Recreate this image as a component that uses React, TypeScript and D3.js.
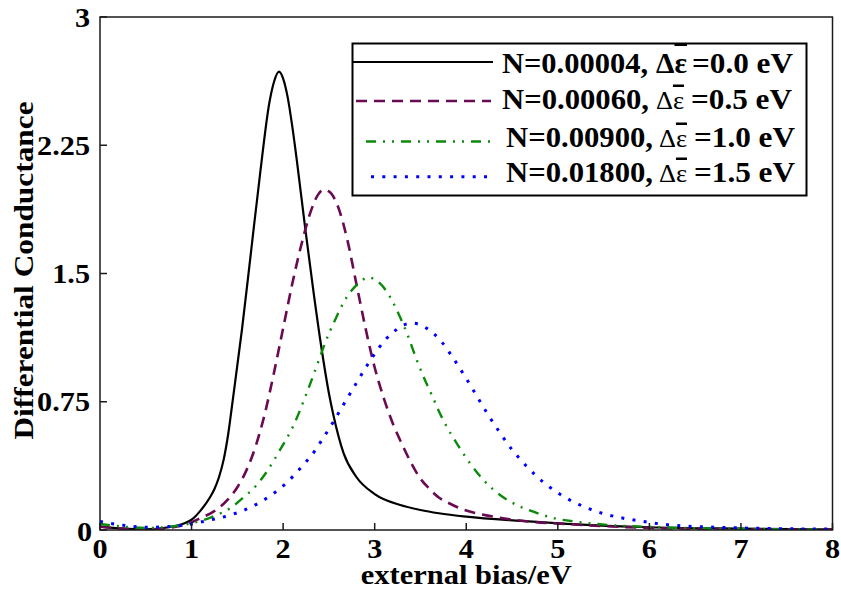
import React from "react";
import * as d3 from "d3";

// ---- data ----
const blackX = [0, 0.25, 0.5, 0.75, 0.9, 1.0, 1.1, 1.2, 1.25, 1.3, 1.35, 1.4, 1.45, 1.55, 1.65, 1.75, 1.85, 1.9, 1.955, 2.0, 2.05, 2.1, 2.15, 2.24, 2.33, 2.42, 2.5, 2.55, 2.66, 2.8, 3.0, 3.28, 3.5, 3.7, 4.0, 4.6, 5.1, 6, 7, 8];
const blackY = [0.02, 0.008, 0.004, 0.016, 0.035, 0.06, 0.115, 0.19, 0.24, 0.31, 0.41, 0.56, 0.76, 1.17, 1.63, 2.09, 2.5, 2.62, 2.68, 2.64, 2.53, 2.36, 2.16, 1.77, 1.4, 1.06, 0.8, 0.67, 0.45, 0.31, 0.21, 0.146, 0.117, 0.098, 0.078, 0.053, 0.036, 0.016, 0.008, 0.004];

const purpleX = [0, 0.25, 0.5, 0.75, 1.0, 1.1, 1.24, 1.4, 1.5, 1.6, 1.7, 1.8, 1.9, 2.0, 2.1, 2.2, 2.3, 2.38, 2.44, 2.5, 2.6, 2.7, 2.8, 2.9, 3.0, 3.1, 3.2, 3.3, 3.4, 3.5, 3.6, 3.7, 3.8, 3.93, 4.295, 4.696, 5.097, 6, 7, 8];
const purpleY = [0.02, 0.008, 0.003, 0.012, 0.045, 0.07, 0.107, 0.18, 0.25, 0.35, 0.49, 0.68, 0.92, 1.18, 1.44, 1.67, 1.86, 1.96, 1.99, 1.98, 1.89, 1.7, 1.44, 1.18, 0.95, 0.77, 0.62, 0.5, 0.39, 0.3, 0.24, 0.19, 0.16, 0.127, 0.078, 0.049, 0.035, 0.012, 0.005, 0.002];

const greenX = [0, 0.25, 0.5, 0.75, 1.0, 1.13, 1.275, 1.42, 1.565, 1.711, 1.821, 1.966, 2.112, 2.257, 2.384, 2.457, 2.567, 2.693, 2.785, 2.86, 2.93, 3.0, 3.058, 3.167, 3.258, 3.367, 3.459, 3.549, 3.64, 3.695, 3.787, 3.896, 4.041, 4.205, 4.369, 4.551, 4.733, 4.951, 5.2, 5.57, 6.116, 7, 8];
const greenY = [0.035, 0.02, 0.012, 0.018, 0.04, 0.058, 0.088, 0.127, 0.19, 0.263, 0.341, 0.468, 0.61, 0.8, 0.984, 1.092, 1.228, 1.36, 1.423, 1.46, 1.477, 1.465, 1.442, 1.364, 1.267, 1.13, 0.994, 0.877, 0.77, 0.702, 0.604, 0.507, 0.39, 0.283, 0.205, 0.146, 0.107, 0.07, 0.048, 0.029, 0.016, 0.007, 0.003];

const blueX = [0, 0.1, 0.25, 0.5, 0.75, 1.0, 1.085, 1.2, 1.427, 1.649, 1.857, 2.039, 2.203, 2.359, 2.421, 2.548, 2.668, 2.792, 2.913, 3.047, 3.124, 3.211, 3.313, 3.422, 3.531, 3.632, 3.721, 3.859, 3.987, 4.11, 4.234, 4.365, 4.503, 4.66, 4.835, 5.024, 5.235, 5.453, 5.686, 5.923, 6.156, 6.393, 6.633, 6.99, 8];
const blueY = [0.05, 0.04, 0.028, 0.016, 0.02, 0.035, 0.045, 0.058, 0.088, 0.134, 0.199, 0.277, 0.37, 0.472, 0.524, 0.632, 0.741, 0.852, 0.959, 1.066, 1.117, 1.16, 1.199, 1.209, 1.191, 1.154, 1.107, 1.004, 0.897, 0.788, 0.678, 0.571, 0.468, 0.372, 0.283, 0.209, 0.148, 0.103, 0.072, 0.051, 0.033, 0.023, 0.018, 0.012, 0.005];

const xTicks = [0, 1, 2, 3, 4, 5, 6, 7, 8];
const yTicks = [0, 0.75, 1.5, 2.25, 3];
const yTickLabels = ["0", "0.75", "1.5", "2.25", "3"];

const legendN = ["N=0.00004,", "N=0.00060,", "N=0.00900,", "N=0.01800,"];
const legendE = ["=0.0 eV", "=0.5 eV", "=1.0 eV", "=1.5 eV"];

const xLabel = "external bias/eV";
const yLabel = "Differential Conductance";

// ---- styles ----
const W = 841, H = 590;
const L = 100, R = 832.5, T = 17, B = 530;
const FONT = "'Liberation Serif', 'Times New Roman', serif";
const SX = 1.12; // horizontal stretch of the reference's lettering

const seriesStyle = [
  { color: "#000000", width: 2.2, dash: "" },
  { color: "#6a0a52", width: 2.6, dash: "11,7" },
  { color: "#0b8a0b", width: 2.4, dash: "10,7,2,7,2,7" },
  { color: "#0000ff", width: 3, dash: "3,8.3" },
];

function SText(props: { x: number; y: number; anchor?: string; size: number; rotate?: number; children: React.ReactNode; sx?: number }) {
  const { x, y, anchor = "start", size, rotate = 0, children, sx = SX } = props;
  return (
    <text
      transform={`translate(${x},${y}) rotate(${rotate}) scale(${sx},1)`}
      textAnchor={anchor}
      fontFamily={FONT}
      fontWeight="bold"
      fontSize={size}
      fill="#000"
    >
      {children}
    </text>
  );
}

export default function App() {
  const x = d3.scaleLinear().domain([0, 8]).range([L, R]);
  const y = d3.scaleLinear().domain([0, 3]).range([B, T]);
  const line = d3
    .line<[number, number]>()
    .x((d) => x(d[0]))
    .y((d) => y(d[1]))
    .curve(d3.curveMonotoneX);

  const series: [number[], number[]][] = [
    [blackX, blackY],
    [purpleX, purpleY],
    [greenX, greenY],
    [blueX, blueY],
  ];

  const legendRows = [
    { lineY: 62, textY: 73, lx0: 353, lx1: 493, nx: 502, nEnd: 648, dx: 656, dEnd: 687, ex: 692, eEnd: 793, big: true },
    { lineY: 101, textY: 108.5, lx0: 356, lx1: 491, nx: 502, nEnd: 649, dx: 656, dEnd: 684, ex: 691, eEnd: 792, big: false },
    { lineY: 141.5, textY: 146.5, lx0: 366, lx1: 495, nx: 506, nEnd: 653, dx: 659, dEnd: 687, ex: 694, eEnd: 795, big: false },
    { lineY: 176.7, textY: 181.5, lx0: 371, lx1: 494, nx: 506, nEnd: 653, dx: 659, dEnd: 687, ex: 694, eEnd: 795, big: false },
  ];

  return (
    <svg width={W} height={H} style={{ display: "block", position: "absolute", left: 0, top: 0, background: "#fff" }}>
      <defs>
        <clipPath id="plotclip">
          <rect x={L} y={T} width={R - L} height={B - T} />
        </clipPath>
      </defs>
      <rect x={0} y={0} width={W} height={H} fill="#fff" />

      {/* curves */}
      <g clipPath="url(#plotclip)">
        {series.map(([xs, ys], i) => (
          <path
            key={i}
            d={line(xs.map((v, j) => [v, ys[j]] as [number, number])) || ""}
            fill="none"
            stroke={seriesStyle[i].color}
            strokeWidth={seriesStyle[i].width}
            strokeDasharray={seriesStyle[i].dash || undefined}
          />
        ))}
      </g>

      {/* axes box */}
      <rect x={L} y={T} width={R - L} height={B - T} fill="none" stroke="#1a1a1a" strokeWidth={1.5} />
      {xTicks.map((t) => (
        <g key={"xt" + t}>
          <line x1={x(t)} x2={x(t)} y1={B} y2={B - 7} stroke="#1a1a1a" strokeWidth={1.5} />
          <SText x={x(t)} y={558} anchor="middle" size={27}>
            {t}
          </SText>
        </g>
      ))}
      {yTicks.map((t, i) => (
        <g key={"yt" + t}>
          <line x1={L} x2={L + 7} y1={y(t)} y2={y(t)} stroke="#1a1a1a" strokeWidth={1.5} />
          <SText x={t === 0 ? 92 : 90} y={y(t) + (t === 0 ? 11 : 9.5)} anchor="end" size={27}>
            {yTickLabels[i]}
          </SText>
        </g>
      ))}

      <SText x={(L + R) / 2} y={584} anchor="middle" size={27} sx={1.13}>
        {xLabel}
      </SText>
      <SText x={33} y={(T + B) / 2 - 3} anchor="middle" size={28} rotate={-90} sx={1.12}>
        {yLabel}
      </SText>

      {/* legend */}
      <rect x={352.5} y={43.5} width={454} height={152} fill="#fff" stroke="#000" strokeWidth={2} />
      {legendRows.map((r, i) => (
        <g key={"lg" + i}>
          <line
            x1={r.lx0}
            x2={r.lx1}
            y1={r.lineY}
            y2={r.lineY}
            stroke={seriesStyle[i].color}
            strokeWidth={seriesStyle[i].width}
            strokeDasharray={seriesStyle[i].dash || undefined}
          />
          <text
            x={r.nx}
            y={r.textY}
            fontFamily={FONT}
            fontWeight="bold"
            fontSize={30}
            textLength={r.nEnd - r.nx}
            lengthAdjust="spacingAndGlyphs"
          >
            {legendN[i]}
          </text>
          <text
            x={r.dx}
            y={r.textY}
            fontFamily={FONT}
            fontWeight={r.big ? "bold" : "normal"}
            fontSize={r.big ? 30 : 25}
            textLength={r.dEnd - r.dx}
            lengthAdjust="spacingAndGlyphs"
          >
            <tspan>Δ</tspan>
            <tspan style={{ textDecoration: "overline" }}>ε</tspan>
          </text>
          <text
            x={r.ex}
            y={r.textY}
            fontFamily={FONT}
            fontWeight="bold"
            fontSize={30}
            textLength={r.eEnd - r.ex}
            lengthAdjust="spacingAndGlyphs"
          >
            {legendE[i]}
          </text>
        </g>
      ))}
    </svg>
  );
}
